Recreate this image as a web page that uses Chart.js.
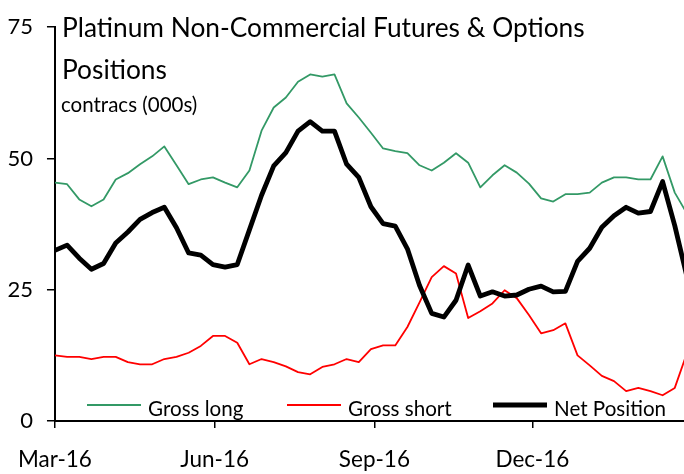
<!DOCTYPE html>
<html>
<head>
<meta charset="utf-8">
<script src="https://cdn.jsdelivr.net/npm/chart.js@4.4.1/dist/chart.umd.min.js"></script>
<style>
  html, body { margin: 0; padding: 0; background: #fff; }
  #wrap { width: 684px; height: 474px; position: relative; }
</style>
</head>
<body>
<div id="wrap"><canvas id="cotChart" width="684" height="474"></canvas></div>
<script>
// weekly COT report dates (Tuesdays)
const weekDates = [
  '01-Mar-16','08-Mar-16','15-Mar-16','22-Mar-16','29-Mar-16',
  '05-Apr-16','12-Apr-16','19-Apr-16','26-Apr-16',
  '03-May-16','10-May-16','17-May-16','24-May-16','31-May-16',
  '07-Jun-16','14-Jun-16','21-Jun-16','28-Jun-16',
  '05-Jul-16','12-Jul-16','19-Jul-16','26-Jul-16',
  '02-Aug-16','09-Aug-16','16-Aug-16','23-Aug-16','30-Aug-16',
  '06-Sep-16','13-Sep-16','20-Sep-16','27-Sep-16',
  '04-Oct-16','11-Oct-16','18-Oct-16','25-Oct-16',
  '01-Nov-16','08-Nov-16','15-Nov-16','22-Nov-16','29-Nov-16',
  '06-Dec-16','13-Dec-16','20-Dec-16','27-Dec-16',
  '03-Jan-17','10-Jan-17','17-Jan-17','24-Jan-17','31-Jan-17',
  '07-Feb-17','14-Feb-17','21-Feb-17','28-Feb-17'
];

// contracts, thousands
const grossLong = [
  45.4, 45.1, 42.2, 40.9, 42.2, 46.0, 47.2, 48.9, 50.4, 52.3,
  48.7, 45.1, 46.0, 46.4, 45.4, 44.5, 47.7, 55.3, 59.7, 61.6,
  64.6, 66.0, 65.6, 66.0, 60.5, 57.8, 54.9, 51.9, 51.4, 51.0,
  48.7, 47.7, 49.2, 51.0, 49.2, 44.5, 46.8, 48.7, 47.3, 45.2,
  42.4, 41.8, 43.2, 43.2, 43.5, 45.4, 46.4, 46.4, 46.0, 46.0,
  50.4, 43.5, 39.5
];
const grossShort = [
  12.5, 12.2, 12.2, 11.8, 12.2, 12.2, 11.2, 10.8, 10.8, 11.8,
  12.2, 13.0, 14.3, 16.2, 16.2, 14.9, 10.8, 11.8, 11.2, 10.4,
  9.3, 8.9, 10.3, 10.8, 11.8, 11.2, 13.7, 14.4, 14.4, 17.9,
  22.6, 27.4, 29.5, 28.1, 19.6, 20.9, 22.4, 24.9, 23.4, 20.2,
  16.7, 17.3, 18.6, 12.5, 10.6, 8.6, 7.6, 5.7, 6.3, 5.7,
  4.9, 6.3, 12.9
];
const netPosition = [
  32.5, 33.5, 31.0, 28.9, 30.0, 33.9, 36.0, 38.4, 39.7, 40.7,
  36.8, 32.0, 31.6, 29.8, 29.3, 29.8, 36.4, 43.0, 48.6, 51.1,
  55.2, 57.0, 55.2, 55.2, 48.9, 46.4, 40.8, 37.6, 37.1, 32.8,
  25.8, 20.5, 19.8, 23.0, 29.7, 23.8, 24.6, 23.8, 24.0, 25.1,
  25.7, 24.6, 24.7, 30.4, 32.9, 36.9, 39.1, 40.7, 39.6, 39.9,
  45.6, 37.2, 27.5
];

// x ticks: 1st of month, in weeks after 1-Mar-16
const tickWeeks = [0, 92 / 7, 184 / 7, 275 / 7];
const tickLabels = ['Mar-16', 'Jun-16', 'Sep-16', 'Dec-16'];
const yTicks = [0, 25, 50, 75];

const FONT = 'Lato, "Open Sans", sans-serif';

const toPoints = arr => arr.map((v, i) => ({ x: i, y: v }));

// title, subtitle and legend sit inside the plot area
const overlayPlugin = {
  id: 'overlay',
  afterDraw(chart) {
    const ctx = chart.ctx;
    ctx.save();
    ctx.fillStyle = '#000';
    ctx.textBaseline = 'alphabetic';
    ctx.textAlign = 'left';
    ctx.font = '26.3px ' + FONT;
    ctx.fillText('Platinum Non-Commercial Futures & Options', 62, 37);
    ctx.fillText('Positions', 62, 79);
    ctx.font = '20.5px ' + FONT;
    ctx.fillText('contracs (000s)', 61, 112);

    const items = [
      { ds: chart.data.datasets[1], x: 87 },
      { ds: chart.data.datasets[2], x: 287 },
      { ds: chart.data.datasets[0], x: 493 }
    ];
    ctx.font = '20.6px ' + FONT;
    items.forEach(it => {
      ctx.beginPath();
      ctx.strokeStyle = it.ds.borderColor;
      ctx.lineWidth = it.ds.borderWidth + 0.3;
      ctx.lineCap = 'butt';
      ctx.moveTo(it.x, 405);
      ctx.lineTo(it.x + 54, 405);
      ctx.stroke();
      ctx.fillStyle = '#000';
      ctx.fillText(it.ds.label, it.x + 61, 416);
    });
    ctx.restore();
  }
};

const axisGrid = { drawOnChartArea: false, drawTicks: true, tickLength: 8, color: '#000', lineWidth: 1.5 };

new Chart(document.getElementById('cotChart').getContext('2d'), {
  type: 'line',
  data: {
    datasets: [
      {
        label: 'Net Position',
        data: toPoints(netPosition),
        borderColor: '#000000',
        borderWidth: 4.8,
        order: 0
      },
      {
        label: 'Gross long',
        data: toPoints(grossLong),
        borderColor: '#339966',
        borderWidth: 1.8,
        order: 2
      },
      {
        label: 'Gross short',
        data: toPoints(grossShort),
        borderColor: '#ff0000',
        borderWidth: 1.8,
        order: 1
      }
    ]
  },
  options: {
    responsive: false,
    animation: false,
    layout: { padding: { top: 26, right: 0, left: 0, bottom: 0 } },
    elements: {
      point: { radius: 0, hoverRadius: 0 },
      line: { tension: 0, borderJoinStyle: 'round', borderCapStyle: 'butt', fill: false }
    },
    plugins: {
      legend: { display: false },
      tooltip: { enabled: false },
      title: { display: false }
    },
    scales: {
      x: {
        type: 'linear',
        min: 0,
        max: 51.76,
        afterBuildTicks: s => { s.ticks = tickWeeks.map(v => ({ value: v })); },
        afterFit: s => { s.height = 53; },
        ticks: {
          autoSkip: false,
          maxRotation: 0,
          padding: 18,
          color: '#000',
          font: { family: FONT, size: 22.5 },
          callback: (v, i) => tickLabels[i]
        },
        grid: { ...axisGrid, tickLength: 7 },
        border: { color: '#000', width: 2 }
      },
      y: {
        min: 0,
        max: 75,
        afterBuildTicks: s => { s.ticks = yTicks.map(v => ({ value: v })); },
        afterFit: s => { s.width = 52; },
        ticks: {
          padding: 14,
          color: '#000',
          font: { family: FONT, size: 22 }
        },
        grid: axisGrid,
        border: { color: '#000', width: 2 }
      }
    }
  },
  plugins: [overlayPlugin]
});
</script>
</body>
</html>
